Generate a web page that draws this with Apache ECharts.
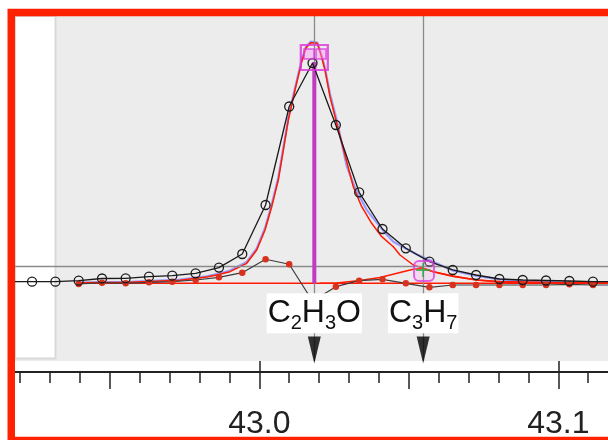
<!DOCTYPE html>
<html>
<head>
<meta charset="utf-8">
<script src="https://cdn.jsdelivr.net/npm/echarts@6/dist/echarts.min.js"></script>
<style>html,body{margin:0;padding:0;background:#fff;}#c{width:608px;height:440px;}</style>
</head>
<body>
<div id="c"></div>
<script>
// ---- data ----
// measured profile (open circles)
const measMass = [42.9162,42.9240,42.9318,42.9396,42.9474,42.9553,42.9631,42.9709,42.9787,42.9865,42.9943,43.0021,43.0100,43.0178,43.0256,43.0334,43.0412,43.0490,43.0569,43.0647,43.0725,43.0803,43.0881,43.0959,43.1037,43.1116,43.1194];
const measValue = [0.67,0.67,0.67,1.08,2.0,2.08,2.74,3.16,4.16,6.53,12.18,32.54,73.48,91.56,65.79,37.82,22.57,14.55,8.98,5.53,3.45,1.79,1.37,1.16,0.96,0.67,0.67];
// residuals (red dots)
const residMass = [42.9396,42.9474,42.9553,42.9631,42.9709,42.9787,42.9865,42.9943,43.0021,43.0100,43.0178,43.0256,43.0334,43.0412,43.0490,43.0569,43.0647,43.0725,43.0803,43.0881,43.0959,43.1037,43.1116,43.1194];
const residValue = [-0.29,0.25,0,0.42,0.67,1.37,2.49,4.41,9.98,7.90,-7.36,-1.41,1.08,1.66,0,-1.66,-0.71,-0.71,-0.71,-0.71,-0.71,-0.42,-0.71,-0.71];
// main component fit (red)
const mainFitMass = [42.93980,42.95676,42.97348,42.98241,42.98575,42.99020,42.99579,42.99913,43.00191,43.00415,43.00635,43.00803,43.00970,43.01194,43.01418,43.01562,43.01719,43.01940,43.02064,43.02197,43.02365,43.02589,43.02866,43.03144,43.03425,43.03759,43.04094,43.04482,43.04706,43.05151,43.05819,43.06488,43.07271,43.08050,43.09722,43.12064];
const mainFitValue = [0.21,0.42,1.25,2.62,3.45,4.82,8.31,13.84,22.15,31.84,42.93,55.40,67.87,80.34,92.10,97.80,100.0,99.75,94.89,88.65,77.56,66.50,53.32,40.15,31.84,24.94,19.37,15.21,11.76,7.61,4.82,3.03,1.37,0.75,0.33,0.12];
// total fit (blue)
const sumFitMass = [42.93980,42.95676,42.97348,42.98241,42.98575,42.99020,42.99579,42.99913,43.00191,43.00415,43.00635,43.00803,43.00970,43.01194,43.01418,43.01562,43.01719,43.01940,43.02064,43.02197,43.02365,43.02589,43.02923,43.03201,43.03592,43.04171,43.04482,43.04873,43.05274,43.05686,43.06488,43.07271,43.08050,43.08809,43.10368,43.12064];
const sumFitValue = [0.33,0.62,1.58,2.91,3.78,5.32,8.85,14.46,22.98,32.75,43.97,56.23,68.70,81.17,92.93,98.42,100.42,100.08,95.51,89.48,78.68,67.87,48.75,39.61,30.47,21.45,17.29,14.67,11.97,9.68,5.24,3.03,1.66,0.96,0.33,0.12];
// C3H7 component fit (red)
const c3h7FitMass = [43.02030,43.02589,43.03368,43.04037,43.04706,43.05151,43.05408,43.05609,43.05819,43.06488,43.07271,43.08050,43.09388,43.12064];
const c3h7FitValue = [0,0.12,1.16,2.41,4.49,5.82,6.15,5.74,4.82,2.83,1.37,0.54,0.12,0];
// baseline
const baseMass = [42.9396,43.1206];
const baseValue = [0,0];
// assigned ions
const ionNames = ['C2H3O','C3H7'];
const ionMasses = [43.0184,43.0548];
const ionMarkerValue = [93.85,5.15];
const stickHeight = [92];
const guideLevel = [6.9];
const labelLevel = -12.47;
const arrowLevel = -27.7;
// axis ticks
const tickLabels = ['43.0','43.1'];

// ---- build ----
const pairs = (xs, ys) => xs.map((x, i) => [x, ys[i]]);
const richName = n => n.replace(/([A-Za-z]+)|(\d+)/g, (m, a, d) => a ? '{n|' + a + '}' : '{s|' + d + '}');

const FONT = '"Liberation Sans", Arial, sans-serif';
const chart = echarts.init(document.getElementById('c'), null, {renderer: 'canvas'});
const gridBase = {top: 16, bottom: 79, containLabel: false};
const hiddenLine = {show: false, onZero: false};
const option = {
  animation: false,
  backgroundColor: '#fff',
  graphic: [
    {type: 'rect', z: 0, shape: {x: 15, y: 16, width: 593, height: 345}, style: {fill: '#ececec'}},
    {type: 'rect', z: 1, shape: {x: 15, y: 16, width: 40.5, height: 342.5}, style: {fill: '#fff', stroke: '#d9d9d9', lineWidth: 2}},
    {type: 'rect', z: 100, shape: {x: 11.25, y: 12.5, width: 620, height: 428}, style: {fill: null, stroke: '#ff2200', lineWidth: 7.5}}
  ],
  grid: [
    Object.assign({left: 15, right: 0}, gridBase),
    Object.assign({left: 20.1, right: 19.8}, gridBase),
    Object.assign({left: 109.8, right: 49.7}, gridBase),
    Object.assign({left: 259.3, right: 49.7}, gridBase)
  ],
  xAxis: [
    {gridIndex: 0, type: 'value', min: 42.918294, max: 43.116622, offset: 11,
     axisLine: {show: true, onZero: false, lineStyle: {color: '#222', width: 2}}, axisTick: {show: false}, axisLabel: {show: false}, splitLine: {show: false}},
    {gridIndex: 1, type: 'value', min: 42.92, max: 43.11, interval: 0.01, offset: 11,
     axisLine: hiddenLine, axisTick: {show: true, length: 11, lineStyle: {color: '#222', width: 1.5}}, axisLabel: {show: false}, splitLine: {show: false}},
    {gridIndex: 2, type: 'value', min: 42.95, max: 43.10, interval: 0.05, offset: 11,
     axisLine: hiddenLine, axisTick: {show: true, length: 17, lineStyle: {color: '#222', width: 1.5}}, axisLabel: {show: false}, splitLine: {show: false}},
    {gridIndex: 3, type: 'value', min: 43.0, max: 43.1, interval: 0.1, offset: 11,
     axisLine: hiddenLine, axisTick: {show: true, length: 22, lineStyle: {color: '#222', width: 1.5}},
     axisLabel: {show: true, margin: 47, fontSize: 32, fontFamily: FONT, color: '#222',
       formatter: (v) => { const s = v.toFixed(1); return tickLabels.indexOf(s) >= 0 ? s : ''; }},
     splitLine: {show: false}}
  ],
  yAxis: [0,1,2,3].map(i => ({gridIndex: i, type: 'value', min: -32.3, max: 111.1, show: false, axisLine: {onZero: false}, splitLine: {show: false}})),
  series: [
    {type: 'line', name: 'guides', data: [], z: 2, silent: true,
     markLine: {silent: true, symbol: 'none', precision: 6, label: {show: false},
       lineStyle: {color: '#8a8a8a', width: 1.3, type: 'solid'},
       data: ionMasses.map(m => ({xAxis: m})).concat(guideLevel.map(v => ({yAxis: v})))}},
    {type: 'line', name: 'total fit', data: pairs(sumFitMass, sumFitValue), showSymbol: false, z: 3,
     lineStyle: {color: '#8c8cff', width: 2.2, opacity: 0.85}},
    {type: 'line', name: 'baseline', data: pairs(baseMass, baseValue), showSymbol: false, z: 4,
     lineStyle: {color: '#ff1a00', width: 1.4}},
    {type: 'line', name: 'C2H3O fit', data: pairs(mainFitMass, mainFitValue), showSymbol: false, z: 4,
     lineStyle: {color: '#ff1a00', width: 1.5}},
    {type: 'line', name: 'C3H7 fit', data: pairs(c3h7FitMass, c3h7FitValue), showSymbol: false, z: 4,
     lineStyle: {color: '#ff1a00', width: 1.6}},
    {type: 'line', name: 'stick', data: [[ionMasses[0], 0], [ionMasses[0], stickHeight[0]]], showSymbol: false, z: 6,
     lineStyle: {color: '#c23ac2', width: 4}},
    {type: 'line', name: 'residual', data: pairs(residMass, residValue), z: 7,
     symbol: 'circle', symbolSize: 6.5, showAllSymbol: true,
     lineStyle: {color: '#3c3c3c', width: 1.2}, itemStyle: {color: '#d8321f'}},
    {type: 'line', name: 'measured', data: pairs(measMass, measValue), z: 8,
     symbol: 'circle', symbolSize: 9, showAllSymbol: true,
     lineStyle: {color: '#1a1a1a', width: 1.3},
     itemStyle: {color: 'rgba(0,0,0,0)', borderColor: '#1a1a1a', borderWidth: 1.3}},
    {type: 'scatter', name: 'marker box', z: 9, silent: true,
     data: [[ionMasses[0], ionMarkerValue[0]]], symbol: 'rect', symbolSize: [27, 25],
     itemStyle: {color: 'rgba(0,0,0,0)', borderColor: '#dd33dd', borderWidth: 2.2}},
    {type: 'scatter', name: 'marker squares', z: 9, silent: true,
     data: [[43.01662, 95.3], [43.02064, 95.3]], symbol: 'rect', symbolSize: 10,
     itemStyle: {color: 'rgba(255,150,255,0.55)', borderColor: '#dd33dd', borderWidth: 1.5}},
    {type: 'scatter', name: 'C3H7 marker', z: 9, silent: true,
     data: [[ionMasses[1] + 0.0003, ionMarkerValue[1]]], symbol: 'roundRect', symbolSize: 20,
     itemStyle: {color: 'rgba(255,150,255,0.25)', borderColor: '#e040e0', borderWidth: 2}},
    {type: 'scatter', name: 'C3H7 cross', z: 9, silent: true,
     data: [[ionMasses[1], 5.5]], symbol: 'path://M4.4,0h1.2v10h-1.2z M0,4.4h10v1.2h-10z', symbolSize: 14,
     itemStyle: {color: '#22aa33'}},
    {type: 'scatter', name: 'arrows', z: 9, silent: true,
     data: ionMasses.map(m => [m, arrowLevel]), symbol: 'triangle', symbolRotate: 180, symbolSize: [13, 27],
     itemStyle: {color: '#000'}},
    {type: 'scatter', name: 'ion labels', z: 10, zlevel: 0, silent: true,
     data: ionMasses.map((m, i) => ({value: [m, labelLevel], name: ionNames[i]})),
     symbolSize: 0, itemStyle: {color: '#fff', opacity: 1},
     emphasis: {disabled: true},
     label: {show: true, position: 'inside', opacity: 1, color: '#111', textBorderWidth: 0,
       formatter: p => richName(p.name),
       backgroundColor: '#fff', padding: [0, 1],
       rich: {
         n: {fontSize: 32, fontFamily: FONT, color: '#111', lineHeight: 40, verticalAlign: 'middle', textBorderWidth: 0},
         s: {fontSize: 20, fontFamily: FONT, color: '#111', lineHeight: 26, verticalAlign: 'bottom', textBorderWidth: 0}
       }}}
  ]
};
chart.setOption(option);
</script>
</body>
</html>
